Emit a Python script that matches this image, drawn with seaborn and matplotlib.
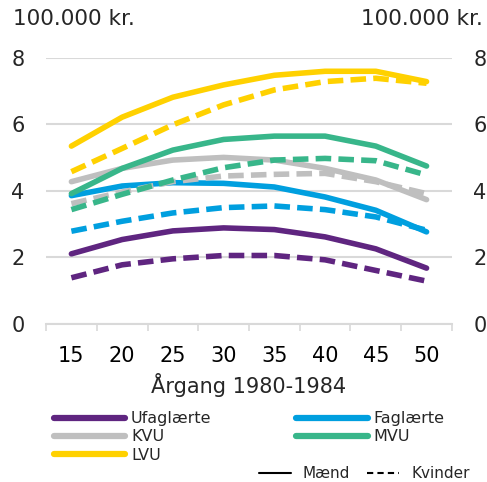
import pandas as pd
import seaborn as sns
import matplotlib.pyplot as plt
from matplotlib.lines import Line2D
from matplotlib.ticker import MultipleLocator

alder = [15, 20, 25, 30, 35, 40, 45, 50]
grupper = ['Ufaglærte', 'Faglærte', 'KVU', 'MVU', 'LVU']
farver = ['#5F2580', '#009FDF', '#BFBFBF', '#38B68A', '#FFD100']

maend = {
    'Ufaglærte': [2.11, 2.54, 2.80, 2.89, 2.84, 2.62, 2.26, 1.68],
    'Faglærte': [3.86, 4.15, 4.25, 4.23, 4.12, 3.82, 3.42, 2.77],
    'KVU': [4.28, 4.68, 4.93, 5.01, 4.93, 4.68, 4.33, 3.74],
    'MVU': [3.92, 4.68, 5.23, 5.55, 5.65, 5.65, 5.35, 4.75],
    'LVU': [5.35, 6.22, 6.82, 7.19, 7.48, 7.60, 7.60, 7.29],
}
kvinder = {
    'Ufaglærte': [1.39, 1.78, 1.96, 2.06, 2.06, 1.93, 1.61, 1.29],
    'Faglærte': [2.79, 3.09, 3.34, 3.50, 3.55, 3.44, 3.22, 2.82],
    'KVU': [3.62, 3.97, 4.28, 4.45, 4.50, 4.53, 4.28, 3.92],
    'MVU': [3.44, 3.90, 4.33, 4.70, 4.93, 4.98, 4.91, 4.48],
    'LVU': [4.58, 5.28, 5.99, 6.59, 7.04, 7.29, 7.39, 7.24],
}

rows = []
for koen, d in [('Mænd', maend), ('Kvinder', kvinder)]:
    for g in grupper:
        for a, v in zip(alder, d[g]):
            rows.append({'alder': a, 'indkomst': v, 'uddannelse': g, 'køn': koen})
df = pd.DataFrame(rows)

sns.set_theme(style='white')
plt.rcParams['font.family'] = ['DejaVu Sans']

fig = plt.figure(figsize=(4.87, 4.82), dpi=100)
ax = fig.add_axes([0.0945, 0.3278, 0.8335, 0.5519])

sns.lineplot(data=df, x='alder', y='indkomst', hue='uddannelse', style='køn',
             hue_order=grupper, palette=dict(zip(grupper, farver)),
             dashes={'Mænd': '', 'Kvinder': (2.8, 1.3)},
             linewidth=4, legend=False, ax=ax)

ax.set_xlim(12.5, 52.5)
ax.set_ylim(0, 8)
ax.set_xticks(alder)
ax.xaxis.set_minor_locator(MultipleLocator(5, offset=2.5))
ax.set_yticks([0, 2, 4, 6, 8])
ax.grid(axis='y', color='#D9D9D9', linewidth=1.5)
ax.set_axisbelow(True)
for s in ['left', 'right', 'top']:
    ax.spines[s].set_visible(False)
ax.spines['bottom'].set_color('#D9D9D9')
ax.spines['bottom'].set_linewidth(1.5)
ax.tick_params(axis='x', which='major', length=0, pad=16, labelsize=15, colors='black')
ax.tick_params(axis='x', which='minor', bottom=True, length=5, width=1.2, color='#D9D9D9')
ax.tick_params(axis='y', length=0, left=False, right=False, labelleft=True, labelright=True,
               pad=15.5, labelsize=15)
ax.set_xlabel('Årgang 1980-1984', fontsize=15, labelpad=5)
ax.set_ylabel('')

fig.text(0.027, 0.96, '100.000 kr.', fontsize=15.5, ha='left', va='center')
fig.text(0.992, 0.96, '100.000 kr.', fontsize=15.5, ha='right', va='center')

orden = ['Ufaglærte', 'KVU', 'LVU', 'Faglærte', 'MVU']
handles = [Line2D([], [], color=farver[grupper.index(g)], lw=4.5, solid_capstyle='round')
           for g in orden]
fig.legend(handles, orden, loc='upper left', bbox_to_anchor=(0.11, 0.147), ncol=2,
           frameon=False, fontsize=11.5, handlelength=4.5, handletextpad=0.35,
           columnspacing=5.3, labelspacing=0.2, borderpad=0, borderaxespad=0)

kh = [Line2D([], [], color='black', lw=1.5),
      Line2D([], [], color='black', lw=1.5, dashes=(3, 2))]
fig.legend(kh, ['Mænd', 'Kvinder'], loc='center right', bbox_to_anchor=(0.965, 0.017),
           ncol=2, frameon=False, fontsize=11, handlelength=2.1, handletextpad=0.8,
           columnspacing=1.1, borderpad=0, borderaxespad=0)

fig.savefig('out.png', dpi=100)
